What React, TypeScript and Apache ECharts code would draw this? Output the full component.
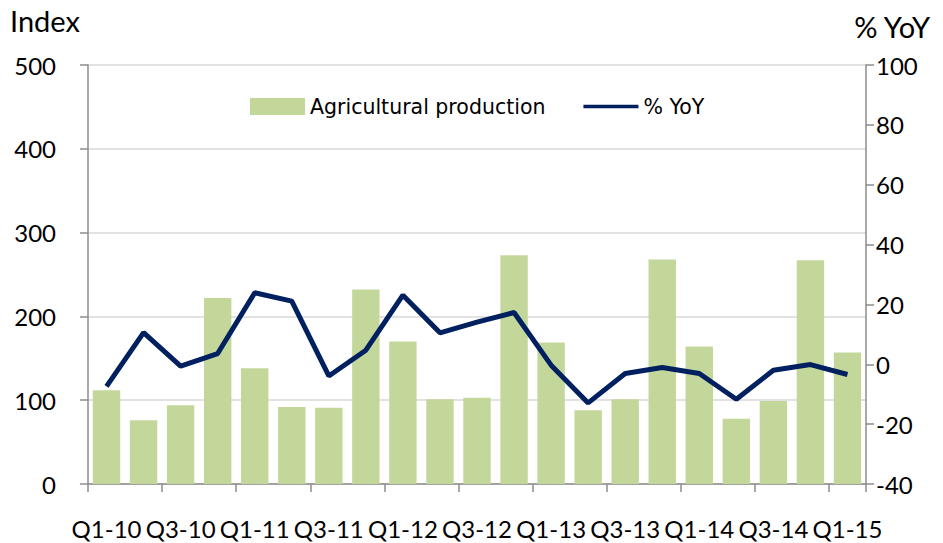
import React, { useEffect, useRef } from "react";
import * as echarts from "echarts";

const categories = [
  "Q1-10", "Q2-10", "Q3-10", "Q4-10",
  "Q1-11", "Q2-11", "Q3-11", "Q4-11",
  "Q1-12", "Q2-12", "Q3-12", "Q4-12",
  "Q1-13", "Q2-13", "Q3-13", "Q4-13",
  "Q1-14", "Q2-14", "Q3-14", "Q4-14",
  "Q1-15",
];
const agriProduction = [112, 76, 94, 222, 138, 92, 91, 232, 170, 101, 103, 273, 169, 88, 101, 268, 164, 78, 99, 267, 157];
const yoy = [-7.4, 10.6, -0.6, 3.6, 23.9, 21.1, -3.9, 4.7, 23.1, 10.5, 14.1, 17.3, -0.3, -12.9, -3.1, -1.1, -3.1, -11.7, -2.0, -0.1, -3.4];
const leftTicks = { min: 0, max: 500, interval: 100 };
const rightTicks = { min: -40, max: 100, interval: 20 };

const FONT = "Lato";
const LEGEND_FONT = "DejaVu Sans";
const LINE_ICON =
  "path://M0,0 L0.01,0 L0.01,0.01 Z M0,17 L0.01,17 L0.01,16.99 Z M0,5.5 L100,5.5 L100,11.5 L0,11.5 Z";

export default function App() {
  const ref = useRef<HTMLDivElement>(null);
  useEffect(() => {
    if (!ref.current) return;
    const chart = echarts.init(ref.current, undefined, { renderer: "svg" });
    const axisLine = { show: true, lineStyle: { color: "#8c8c8c", width: 1.5 } };
    chart.setOption({
      animation: false,
      backgroundColor: "#ffffff",
      textStyle: { fontFamily: FONT },
      grid: { left: 88, right: 77, top: 65, bottom: 59 },
      legend: {
        top: 91,
        left: 245,
        itemGap: 38,
        itemWidth: 55,
        itemHeight: 17,
        textStyle: { fontFamily: LEGEND_FONT, fontSize: 20.5, color: "#000" },
        data: [
          { name: "Agricultural production", icon: "rect" },
          {
            name: "% YoY",
            icon: LINE_ICON,
            itemStyle: { color: "#002060", borderWidth: 0 },
            lineStyle: { width: 0 },
          },
        ],
      },
      xAxis: {
        type: "category",
        data: categories,
        boundaryGap: true,
        axisLine,
        axisTick: { show: true, interval: 1, length: 8, lineStyle: { color: "#8c8c8c", width: 1.5 } },
        axisLabel: { interval: 1, fontSize: 24, color: "#000", margin: 32, fontFamily: FONT },
        splitLine: { show: false },
      },
      yAxis: [
        {
          type: "value",
          min: leftTicks.min,
          max: leftTicks.max,
          interval: leftTicks.interval,
          name: "Index",
          nameLocation: "end",
          nameGap: 30,
          nameTextStyle: { fontSize: 29, color: "#000", align: "left", padding: [0, 0, 0, -78], fontFamily: FONT },
          axisLine,
          axisTick: { show: true, length: 8, lineStyle: { color: "#8c8c8c", width: 1.5 } },
          axisLabel: { fontSize: 24, color: "#000", margin: 32, fontFamily: FONT },
          splitLine: { show: true, lineStyle: { color: "#d9d9d9", width: 1.5 } },
        },
        {
          type: "value",
          position: "right",
          min: rightTicks.min,
          max: rightTicks.max,
          interval: rightTicks.interval,
          name: "% YoY",
          nameLocation: "end",
          nameGap: 24,
          nameTextStyle: { fontSize: 29, color: "#000", align: "right", padding: [0, -64, 0, 0], fontFamily: FONT },
          axisLine,
          axisTick: { show: true, length: 8, lineStyle: { color: "#8c8c8c", width: 1.5 } },
          axisLabel: { fontSize: 24, color: "#000", margin: 10, fontFamily: FONT },
          splitLine: { show: false },
        },
      ],
      series: [
        {
          name: "Agricultural production",
          type: "bar",
          data: agriProduction,
          yAxisIndex: 0,
          barCategoryGap: "26%",
          itemStyle: { color: "#c4d79b" },
        },
        {
          name: "% YoY",
          type: "line",
          data: yoy,
          yAxisIndex: 1,
          symbol: "none",
          lineStyle: { color: "#002060", width: 5 },
          itemStyle: { color: "#002060" },
        },
      ],
    });
    return () => chart.dispose();
  }, []);
  return <div ref={ref} style={{ width: 943, height: 543, position: "absolute", left: 0, top: 0 }} />;
}
